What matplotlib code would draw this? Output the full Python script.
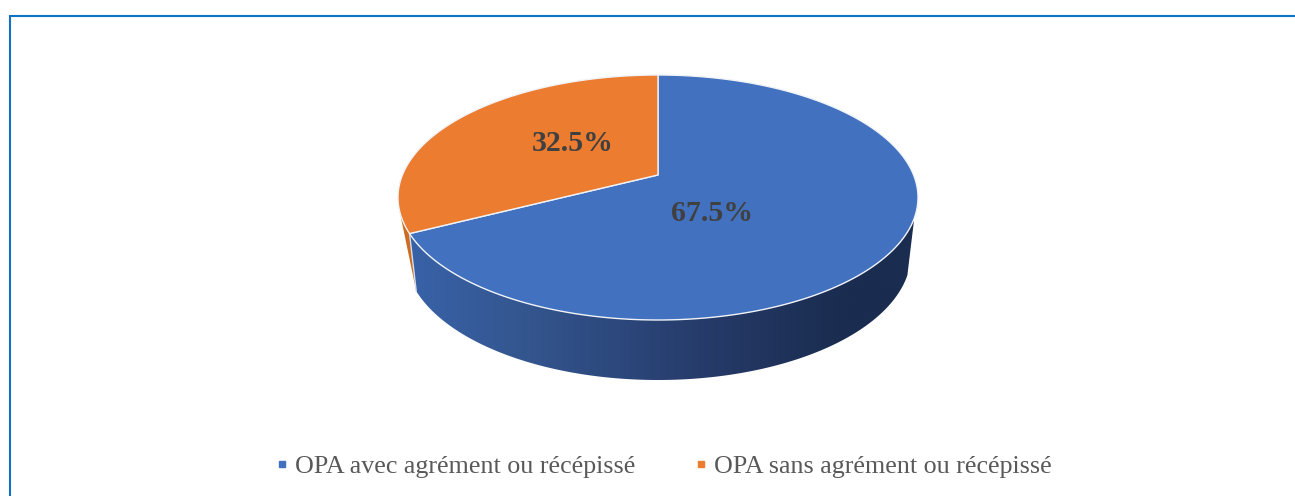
import numpy as np
import matplotlib
matplotlib.use('Agg')
import matplotlib.pyplot as plt
from matplotlib.colors import LinearSegmentedColormap
from matplotlib.lines import Line2D
from matplotlib.patches import Polygon

labels = ['OPA avec agrément ou récépissé', 'OPA sans agrément ou récépissé']
shares = [67.5, 32.5]
colors = ['#4271c0', '#ec7c30']

plt.rcParams['font.family'] = ['Liberation Serif', 'DejaVu Serif']

# pixel geometry of the tilted pie
CX = 658
TOP_CY, TOP_A, TOP_B = 197.5, 260, 122.5
BOT_CY, BOT_A, BOT_B = 254, 253, 126
TILT = -0.184  # moves the centre of the pie up, perspective


def project(angle):
    # angle in degrees, clockwise from 12 o'clock -> unit ellipse coords
    u = np.sin(np.radians(angle))
    v = -np.cos(np.radians(angle))
    d = 1 + TILT * v
    return u * np.sqrt(1 - TILT ** 2) / d, (v + TILT) / d


def top_xy(angle):
    x, y = project(angle)
    return np.column_stack([CX + TOP_A * x, TOP_CY + TOP_B * y])


def bot_xy(angle):
    x, y = project(angle)
    return np.column_stack([CX + BOT_A * x, BOT_CY + BOT_B * y])


fig = plt.figure(figsize=(12.95, 4.96), dpi=100)
ax = fig.add_axes([0, 0, 1, 1])
ax.set_xlim(0, 1295)
ax.set_ylim(496, 0)
ax.axis('off')

# frame of the chart area
ax.plot([10, 10, 1295], [496, 16, 16], color='#0f72c4', lw=1.5,
        solid_joinstyle='miter')

edges = np.cumsum([0] + shares) / sum(shares) * 360
seam = edges[1]

# orange side, only the short bit left of the seam
right_end = 110  # where the top edge leaves the side on the right
left_end = 254
arc = np.linspace(seam, left_end, 30)
side = np.vstack([top_xy(arc), bot_xy(np.array([seam]))])
ax.add_patch(Polygon(side, closed=True, fc='#cc6d22', ec='none', zorder=2))

# blue side with the dark gradient
arc = np.linspace(right_end, seam, 200)
side = np.vstack([top_xy(arc), bot_xy(arc[::-1])])
clip = Polygon(side, closed=True, fc='none', ec='none',
               transform=ax.transData)
ax.add_patch(clip)
cmap = LinearSegmentedColormap.from_list('side', [
    (0.0, '#3862a8'), (0.22, '#34568f'), (0.46, '#2a4477'),
    (0.58, '#263b69'), (0.78, '#1d3056'), (0.86, '#1a2c4f'),
    (1.0, '#1a2c4f')])
im = ax.imshow(np.linspace(0, 1, 256)[None, :], cmap=cmap, aspect='auto',
               extent=[410, 918, 380, 190], zorder=3)
im.set_clip_path(clip)
ax.set_xlim(0, 1295)
ax.set_ylim(496, 0)

# seam between the two sides
s = np.array([seam])
ax.plot([top_xy(s)[0, 0], bot_xy(s)[0, 0]], [top_xy(s)[0, 1], bot_xy(s)[0, 1]],
        color='#d5dcea', lw=1, zorder=4)

# top face
centre = [CX, TOP_CY + TOP_B * TILT]
for i in range(len(shares)):
    arc = np.linspace(edges[i], edges[i + 1], 300)
    pts = np.vstack([[centre], top_xy(arc)])
    ax.add_patch(Polygon(pts, closed=True, fc=colors[i], ec='#f0f3f8', lw=1,
                         joinstyle='round', zorder=5))

label_pos = [(712.5, 213.5), (572.5, 143.5)]
for v, (x, y) in zip(shares, label_pos):
    ax.text(x, y, f'{v:.1f}%', ha='center', va='center', fontsize=21.5,
            fontweight='bold', color='#404040', zorder=6)

handles = [Line2D([], [], ls='none', marker='s', ms=5, color=c)
           for c in colors]
ax.legend(handles, labels, loc='center', ncols=2,
          bbox_to_anchor=(660.5, 466), bbox_transform=ax.transData,
          frameon=False, fontsize=18.7, labelcolor='#595959',
          handletextpad=0.0, columnspacing=2.0, handlelength=1.0)

fig.savefig('out.png', dpi=100)
